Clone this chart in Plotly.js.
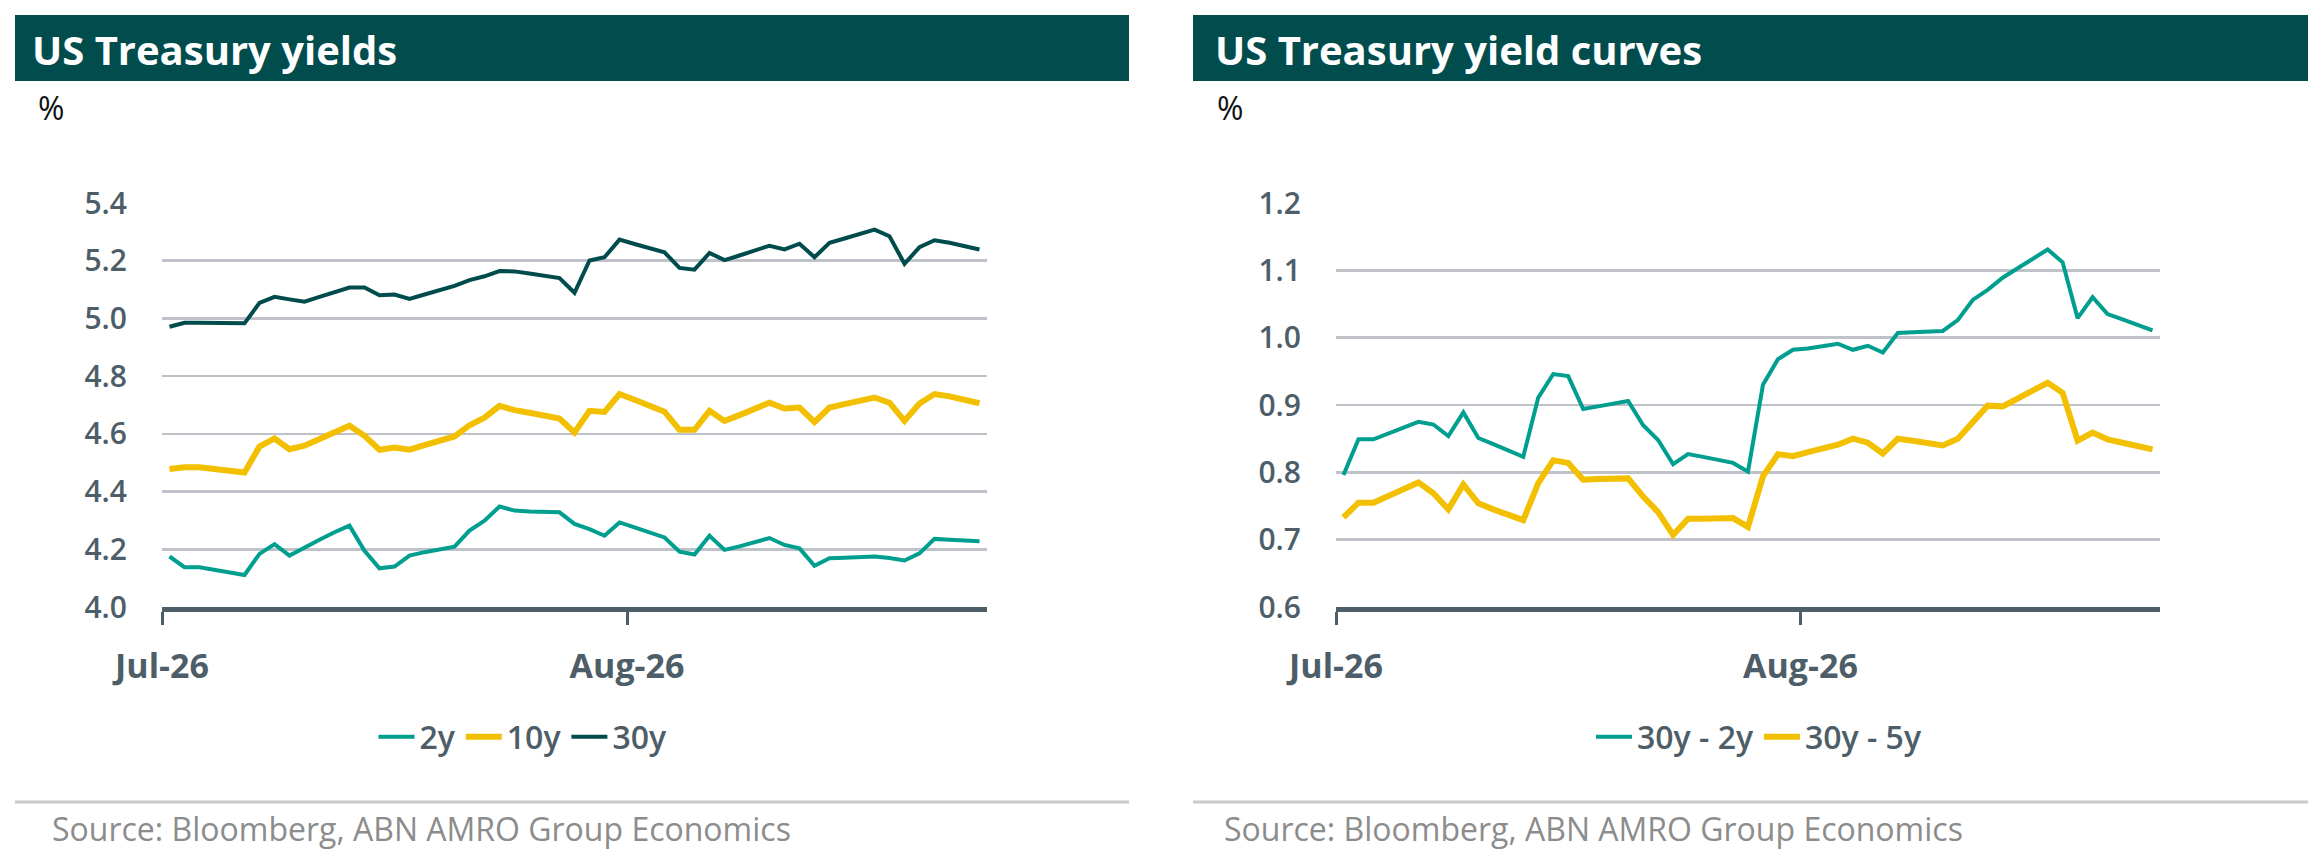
<!DOCTYPE html>
<html>
<head>
<meta charset="utf-8">
<script src="https://cdn.plot.ly/plotly-3.0.1.min.js"></script>
<style>
  html, body { margin: 0; padding: 0; background: #fff; }
  #chart { width: 2323px; height: 855px; }
</style>
</head>
<body>
<div id="chart"></div>
<script>
// daily observations, Jul 1 - Aug 24 2026
const dates = [
  '2026-07-01','2026-07-02','2026-07-03','2026-07-04','2026-07-05','2026-07-06','2026-07-07',
  '2026-07-08','2026-07-09','2026-07-10','2026-07-11','2026-07-12','2026-07-13','2026-07-14',
  '2026-07-15','2026-07-16','2026-07-17','2026-07-18','2026-07-19','2026-07-20','2026-07-21',
  '2026-07-22','2026-07-23','2026-07-24','2026-07-25','2026-07-26','2026-07-27','2026-07-28',
  '2026-07-29','2026-07-30','2026-07-31','2026-08-01','2026-08-02','2026-08-03','2026-08-04',
  '2026-08-05','2026-08-06','2026-08-07','2026-08-08','2026-08-09','2026-08-10','2026-08-11',
  '2026-08-12','2026-08-13','2026-08-14','2026-08-15','2026-08-16','2026-08-17','2026-08-18',
  '2026-08-19','2026-08-20','2026-08-21','2026-08-22','2026-08-23','2026-08-24'
];

const y2 = [4.175,4.138,4.138,4.130,4.120,4.111,4.184,4.218,4.178,4.207,4.233,4.259,4.282,4.195,
  4.134,4.140,4.178,4.190,4.199,4.209,4.265,4.299,4.348,4.334,4.331,4.329,4.328,4.288,
  4.270,4.247,4.293,4.276,4.259,4.241,4.192,4.182,4.247,4.198,4.210,4.224,4.239,4.215,
  4.203,4.143,4.169,4.171,4.172,4.175,4.170,4.161,4.186,4.236,4.233,4.231,4.228];

const y10 = [4.478,4.484,4.484,4.478,4.472,4.466,4.556,4.584,4.547,4.559,4.582,4.605,4.628,4.593,
  4.545,4.553,4.545,4.561,4.576,4.591,4.630,4.656,4.697,4.682,4.673,4.664,4.653,4.605,
  4.680,4.676,4.738,4.718,4.697,4.677,4.614,4.614,4.680,4.645,4.665,4.688,4.708,4.688,
  4.691,4.641,4.691,4.703,4.714,4.726,4.708,4.645,4.705,4.738,4.730,4.718,4.706];

const y30 = [4.971,4.985,4.985,4.984,4.984,4.983,5.054,5.075,5.066,5.058,5.075,5.091,5.107,5.107,
  5.080,5.083,5.068,5.083,5.098,5.113,5.133,5.146,5.164,5.163,5.156,5.148,5.140,5.089,
  5.201,5.212,5.273,5.258,5.244,5.229,5.175,5.169,5.227,5.202,5.218,5.235,5.252,5.239,
  5.259,5.212,5.262,5.277,5.293,5.308,5.285,5.189,5.247,5.271,5.262,5.250,5.239];

const curve30_2 = [0.796,0.849,0.849,0.858,0.867,0.875,0.871,0.854,0.889,0.851,0.842,0.833,0.823,0.911,
  0.946,0.943,0.894,0.898,0.902,0.906,0.870,0.848,0.812,0.827,0.823,0.819,0.814,0.801,
  0.930,0.968,0.982,0.984,0.987,0.991,0.982,0.988,0.978,1.007,1.008,1.009,1.010,1.026,
  1.056,1.071,1.089,1.103,1.117,1.131,1.112,1.029,1.060,1.035,1.027,1.019,1.011];

const curve30_5 = [0.733,0.755,0.755,0.765,0.775,0.785,0.769,0.745,0.782,0.754,0.745,0.736,0.729,0.784,
  0.818,0.814,0.789,0.790,0.790,0.791,0.764,0.741,0.707,0.731,0.731,0.732,0.732,0.719,
  0.794,0.827,0.824,0.830,0.835,0.841,0.850,0.844,0.828,0.850,0.847,0.844,0.840,0.850,
  0.876,0.899,0.898,0.910,0.922,0.933,0.918,0.847,0.859,0.849,0.844,0.840,0.834];

const tickDates = ['2026-07-01', '2026-08-01'];
const tickLabels = ['Jul-26', 'Aug-26'];

const W = 2323, H = 855;
const px = (x) => x / W;
const py = (y) => 1 - y / H;

const GREEN = '#014d4e';
const TEAL = '#009e8f';
const YELLOW = '#f2c000';
const SLATE = '#4e5e68';
const FONT = 'Open Sans, Roboto, sans-serif';

function line(x, y, name, color, width, xa, ya, legend) {
  return {
    x: x, y: y, name: name, type: 'scatter', mode: 'lines',
    xaxis: xa, yaxis: ya, legend: legend,
    xperiod: 86400000, xperiodalignment: 'middle',
    line: { color: color, width: width, shape: 'linear' },
    hoverinfo: 'skip',
  };
}

const data = [
  line(dates, y2, '2y', TEAL, 4, 'x', 'y', 'legend'),
  line(dates, y10, '10y', YELLOW, 6, 'x', 'y', 'legend'),
  line(dates, y30, '30y', '#004b4b', 4, 'x', 'y', 'legend'),
  line(dates, curve30_2, '30y - 2y', TEAL, 4, 'x2', 'y2', 'legend2'),
  line(dates, curve30_5, '30y - 5y', YELLOW, 6, 'x2', 'y2', 'legend2'),
];

function xAxis(domain, anchor) {
  return {
    domain: domain, anchor: anchor, type: 'date',
    range: ['2026-07-01', '2026-08-25'],
    tickmode: 'array', tickvals: tickDates, ticktext: tickLabels,
    ticks: 'outside', ticklen: 13, tickwidth: 3, tickcolor: SLATE,
    ticklabelstandoff: 12,
    showline: true, linewidth: 5, linecolor: SLATE,
    showgrid: false, zeroline: false, fixedrange: true,
    tickfont: { family: FONT, size: 34, color: SLATE, weight: 700 },
  };
}

function yAxis(range, dtick, anchor) {
  return {
    domain: [py(607), py(203)], anchor: anchor,
    range: range, dtick: dtick, tick0: range[0], tickformat: '.1f',
    ticks: '', ticklabelstandoff: 34,
    showgrid: true, gridcolor: '#c0c2c9', gridwidth: 2.5,
    zeroline: false, showline: false, fixedrange: true,
    tickfont: { family: FONT, size: 30, color: SLATE, weight: 600 },
  };
}

const legendStyle = {
  orientation: 'h', xanchor: 'center', yanchor: 'middle',
  font: { family: FONT, size: 32, color: SLATE, weight: 600 },
  bgcolor: 'rgba(0,0,0,0)', itemwidth: 36, traceorder: 'normal',
};

const layout = {
  width: W, height: H,
  margin: { l: 0, r: 0, t: 0, b: 0 },
  paper_bgcolor: '#ffffff', plot_bgcolor: 'rgba(0,0,0,0)',
  showlegend: true,
  xaxis: xAxis([px(162), px(987)], 'y'),
  yaxis: yAxis([4.0, 5.4], 0.2, 'x'),
  xaxis2: xAxis([px(1336), px(2160)], 'y2'),
  yaxis2: yAxis([0.6, 1.2], 0.1, 'x2'),
  legend: Object.assign({ x: px(523), y: py(737) }, legendStyle),
  legend2: Object.assign({ x: px(1759), y: py(737) }, legendStyle),
  shapes: [
    { type: 'rect', xref: 'paper', yref: 'paper', x0: px(15), x1: px(1129), y0: py(81), y1: py(15),
      fillcolor: GREEN, line: { width: 0 }, layer: 'below' },
    { type: 'rect', xref: 'paper', yref: 'paper', x0: px(1193), x1: px(2308), y0: py(81), y1: py(15),
      fillcolor: GREEN, line: { width: 0 }, layer: 'below' },
    { type: 'line', xref: 'paper', yref: 'paper', x0: px(15), x1: px(1129), y0: py(802), y1: py(802),
      line: { color: '#c9c9c9', width: 3 } },
    { type: 'line', xref: 'paper', yref: 'paper', x0: px(1193), x1: px(2308), y0: py(802), y1: py(802),
      line: { color: '#c9c9c9', width: 3 } },
  ],
  annotations: [
    { text: 'US Treasury yields', x: px(30), y: py(49) },
    { text: 'US Treasury yield curves', x: px(1213), y: py(49) },
  ].map((a) => Object.assign(a, {
    xref: 'paper', yref: 'paper', xanchor: 'left', yanchor: 'middle', showarrow: false,
    font: { family: FONT, size: 40, color: '#ffffff', weight: 700 },
  })).concat([
    { text: '%', x: px(36), y: py(108) },
    { text: '%', x: px(1215), y: py(108) },
  ].map((a) => Object.assign(a, {
    xref: 'paper', yref: 'paper', xanchor: 'left', yanchor: 'middle', showarrow: false,
    font: { family: FONT, size: 32, color: '#111111' },
  }))).concat([
    { text: 'Source: Bloomberg, ABN AMRO Group Economics', x: px(50), y: py(828) },
    { text: 'Source: Bloomberg, ABN AMRO Group Economics', x: px(1222), y: py(828) },
  ].map((a) => Object.assign(a, {
    xref: 'paper', yref: 'paper', xanchor: 'left', yanchor: 'middle', showarrow: false,
    font: { family: FONT, size: 32, color: '#8c8c8c' },
  }))),
};

Plotly.newPlot('chart', data, layout, { staticPlot: true, displayModeBar: false });
</script>
</body>
</html>
